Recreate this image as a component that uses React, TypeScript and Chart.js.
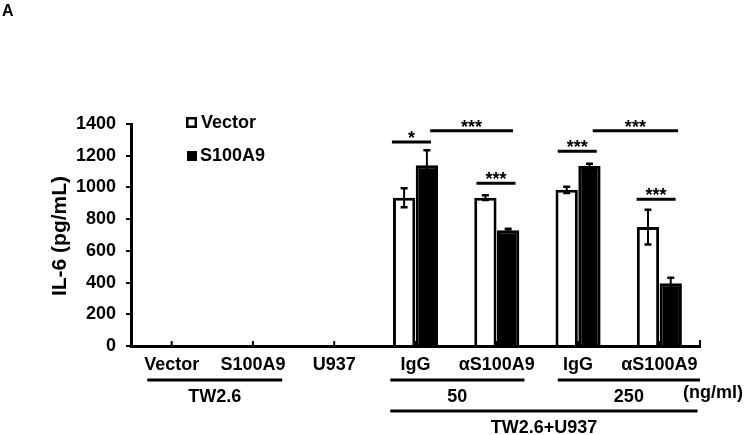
import React, { useEffect, useRef } from "react";
import { Chart, registerables } from "chart.js";
Chart.register(...registerables);

const FONT = "'Liberation Sans', Arial, Helvetica, sans-serif";

const categories = ["Vector", "S100A9", "U937", "IgG", "αS100A9", "IgG", "αS100A9"];
const vectorValues = [null, null, null, 935, 935, 985, 750];
const vectorErrors = [null, null, null, 60, 15, 20, 110];
const s100a9Values = [null, null, null, 1140, 730, 1135, 395];
const s100a9Errors = [null, null, null, 95, 10, 15, 35];
const seriesNames = ["Vector", "S100A9"];
const yMin = 0;
const yMax = 1400;
const yStep = 200;
const yTitle = "IL-6 (pg/mL)";
const panelLabel = "A";
const unitLabel = "(ng/ml)";

// significance brackets: from/to in category units, height in data units
const sigFrom = [2.71, 3.18, 3.75, 4.75, 5.18, 5.72];
const sigTo = [3.19, 4.2, 4.23, 5.23, 6.23, 6.2];
const sigHeight = [1286, 1358, 1027, 1228, 1358, 925];
const sigLabel = ["*", "***", "***", "***", "***", "***"];

// group labels under the axis
const groupText = ["TW2.6", "50", "250", "TW2.6+U937"];
const groupFrom = [-0.3, 2.69, 4.75, 2.69];
const groupTo = [1.36, 4.34, 6.5, 6.47];
const groupRow = [0, 0, 0, 1];

const annotations = {
  id: "annotations",
  afterDatasetsDraw(chart: any) {
    const ctx = chart.ctx;
    const xs = chart.scales.x;
    const ys = chart.scales.y;
    const area = chart.chartArea;
    const c0 = xs.getPixelForValue(0);
    const step = xs.getPixelForValue(1) - c0;
    const cx = (u: number) => c0 + u * step;
    ctx.save();
    ctx.strokeStyle = "#000";
    ctx.fillStyle = "#000";

    // error bars
    const errs = [vectorErrors, s100a9Errors];
    const vals = [vectorValues, s100a9Values];
    errs.forEach((arr, di) => {
      const meta = chart.getDatasetMeta(di);
      arr.forEach((e, i) => {
        const v = vals[di][i];
        if (e == null || v == null) return;
        const el = meta.data[i];
        const x = el.x;
        const yt = ys.getPixelForValue(v + e);
        const yb = ys.getPixelForValue(v - e);
        ctx.lineWidth = 2;
        ctx.beginPath();
        ctx.moveTo(x, yt);
        ctx.lineTo(x, yb);
        ctx.stroke();
        ctx.lineWidth = 2.5;
        ctx.beginPath();
        ctx.moveTo(x - 3.5, yt);
        ctx.lineTo(x + 3.5, yt);
        ctx.moveTo(x - 3.5, yb);
        ctx.lineTo(x + 3.5, yb);
        ctx.stroke();
      });
    });

    // significance brackets
    ctx.font = `bold 18px ${FONT}`;
    ctx.textAlign = "center";
    ctx.textBaseline = "alphabetic";
    sigFrom.forEach((a, i) => {
      const y = ys.getPixelForValue(sigHeight[i]);
      const x1 = cx(a);
      const x2 = cx(sigTo[i]);
      ctx.lineWidth = 3;
      ctx.beginPath();
      ctx.moveTo(x1, y);
      ctx.lineTo(x2, y);
      ctx.stroke();
      ctx.fillText(sigLabel[i], (x1 + x2) / 2, y + 2);
    });

    // upward x tick marks
    ctx.lineWidth = 2;
    ctx.beginPath();
    categories.forEach((_, i) => {
      const x = cx(i);
      ctx.moveTo(x, area.bottom);
      ctx.lineTo(x, area.bottom - 5);
    });
    ctx.moveTo(area.right, area.bottom);
    ctx.lineTo(area.right, area.bottom - 6);
    ctx.stroke();

    // groups
    ctx.font = `bold 18px ${FONT}`;
    ctx.textBaseline = "middle";
    groupText.forEach((t, i) => {
      const x1 = cx(groupFrom[i]);
      const x2 = cx(groupTo[i]);
      const ly = area.bottom + 34 + groupRow[i] * 31;
      ctx.lineWidth = 3;
      ctx.beginPath();
      ctx.moveTo(x1, ly);
      ctx.lineTo(x2, ly);
      ctx.stroke();
      ctx.fillText(t, (x1 + x2) / 2, ly + 17);
    });
    ctx.textAlign = "left";
    ctx.fillText(unitLabel, area.right - 17, area.bottom + 47);

    // legend
    const lx = 186;
    const ly0 = 117;
    const gap = 33;
    ctx.lineWidth = 2.5;
    ctx.fillStyle = "#fff";
    ctx.fillRect(lx, ly0, 11, 11);
    ctx.strokeRect(lx + 1.25, ly0 + 1.25, 8.5, 8.5);
    ctx.fillStyle = "#000";
    ctx.fillRect(lx + 1, ly0 + gap + 1, 10, 10);
    ctx.textBaseline = "middle";
    ctx.fillText(seriesNames[0], lx + 15, ly0 + 6);
    ctx.fillText(seriesNames[1], lx + 14, ly0 + gap + 6);

    // y title
    ctx.save();
    ctx.translate(60, (area.top + area.bottom) / 2 + 1);
    ctx.rotate(-Math.PI / 2);
    ctx.textAlign = "center";
    ctx.textBaseline = "middle";
    ctx.font = `bold 21px ${FONT}`;
    ctx.fillText(yTitle, 0, 0);
    ctx.restore();

    // panel label
    ctx.font = `bold 16px ${FONT}`;
    ctx.textAlign = "left";
    ctx.textBaseline = "top";
    ctx.fillText(panelLabel, 2, 4);

    ctx.restore();
  },
};

export default function App() {
  const ref = useRef<HTMLCanvasElement>(null);
  useEffect(() => {
    if (!ref.current) return;
    const chart = new Chart(ref.current, {
      type: "bar",
      data: {
        labels: categories,
        datasets: [
          {
            label: seriesNames[0],
            data: vectorValues as any,
            backgroundColor: "#fff",
            borderColor: "#000",
            borderWidth: 3,
          },
          {
            label: seriesNames[1],
            data: s100a9Values as any,
            backgroundColor: "#000",
            borderColor: "#000",
            borderWidth: 3,
          },
        ],
      },
      options: {
        responsive: false,
        devicePixelRatio: 1,
        animation: false,
        datasets: { bar: { categoryPercentage: 0.56, barPercentage: 0.98 } },
        layout: { padding: { left: 0, right: 47, top: 124, bottom: 0 } },
        plugins: { legend: { display: false }, tooltip: { enabled: false } },
        scales: {
          x: {
            afterFit: (s: any) => {
              s.height = 89;
            },
            grid: { display: true, drawOnChartArea: false, drawTicks: false, color: "#000" },
            border: { display: true, color: "#000", width: 3 },
            ticks: {
              color: "#000",
              padding: 8,
              maxRotation: 0,
              autoSkip: false,
              font: { family: FONT, size: 18, weight: "bold" },
            },
          },
          y: {
            min: yMin,
            max: yMax,
            afterFit: (s: any) => {
              s.width = 131;
            },
            grid: { display: true, drawOnChartArea: false, drawTicks: true, tickLength: 5, color: "#000", lineWidth: 2 },
            border: { display: true, color: "#000", width: 3 },
            ticks: {
              stepSize: yStep,
              color: "#000",
              padding: 10,
              callback: (v: any) => String(v),
              font: { family: FONT, size: 18, weight: "bold" },
            },
          },
        },
      },
      plugins: [annotations],
    });
    return () => chart.destroy();
  }, []);
  return (
    <div style={{ position: "absolute", left: 0, top: 0, width: 747, height: 435, background: "#fff" }}>
      <canvas ref={ref} width={747} height={435} style={{ width: 747, height: 435, display: "block" }} />
    </div>
  );
}
